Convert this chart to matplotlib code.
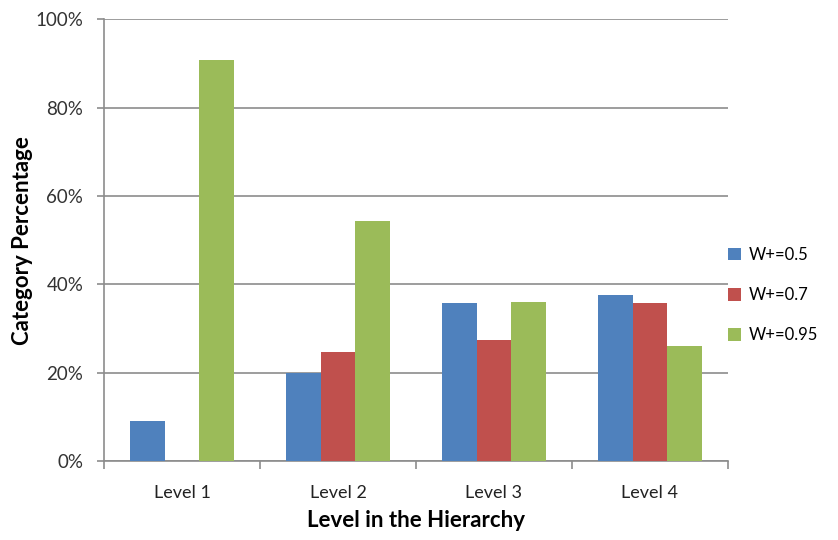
import numpy as np
import matplotlib.pyplot as plt
from matplotlib.ticker import PercentFormatter

levels = ["Level 1", "Level 2", "Level 3", "Level 4"]
series_names = ["W+=0.5", "W+=0.7", "W+=0.95"]
w05 = [9.1, 20.0, 35.8, 37.5]
w07 = [0.0, 24.8, 27.3, 35.8]
w095 = [90.9, 54.4, 36.1, 26.1]
colors = ["#4F81BD", "#C0504D", "#9BBB59"]

plt.rcParams['font.family'] = ['Lato', 'DejaVu Sans']

fig = plt.figure(figsize=(8.38, 5.4), dpi=100)
ax = fig.add_axes([0.1241, 0.1463, 0.7446, 0.8176])

x = np.arange(len(levels))
width = 0.222
for i, (vals, name, c) in enumerate(zip([w05, w07, w095], series_names, colors)):
    ax.bar(x + (i - 1) * width, vals, width, color=c, label=name, zorder=3)

ax.set_xlim(-0.5, len(levels) - 0.5)
ax.set_ylim(0, 100)
ax.set_yticks(np.arange(0, 101, 20))
ax.yaxis.set_major_formatter(PercentFormatter(decimals=0))
ax.yaxis.grid(True, color="#8C8C8C", linewidth=1.2, zorder=0)

# category ticks sit between groups, labels centred under them
ax.set_xticks(np.arange(-0.5, len(levels)), minor=False)
ax.set_xticklabels([])
ax.set_xticks(x, minor=True)
ax.set_xticklabels(levels, minor=True)
ax.tick_params(axis='x', which='minor', length=0, pad=17, labelsize=13, colors="#222222")
ax.tick_params(axis='x', which='major', length=6, width=1.2, color="#8C8C8C")
ax.tick_params(axis='y', length=5, width=1.2, color="#8C8C8C", labelsize=13.5,
               labelcolor="#333333", pad=10)

for s in ["top", "right"]:
    ax.spines[s].set_visible(False)
for s in ["left", "bottom"]:
    ax.spines[s].set_color("#8C8C8C")
    ax.spines[s].set_linewidth(1.2)

ax.set_ylabel("Category Percentage", fontsize=16, fontweight="bold", labelpad=2)
ax.set_xlabel("Level in the Hierarchy", fontsize=16, fontweight="bold", labelpad=7)

ax.legend(loc="center left", bbox_to_anchor=(1.0, 0.376), frameon=False,
          fontsize=12, handlelength=0.8, handleheight=0.8, handletextpad=0.45,
          labelspacing=1.45, borderaxespad=0.0, borderpad=0.0)

fig.savefig("out.png", dpi=100)
